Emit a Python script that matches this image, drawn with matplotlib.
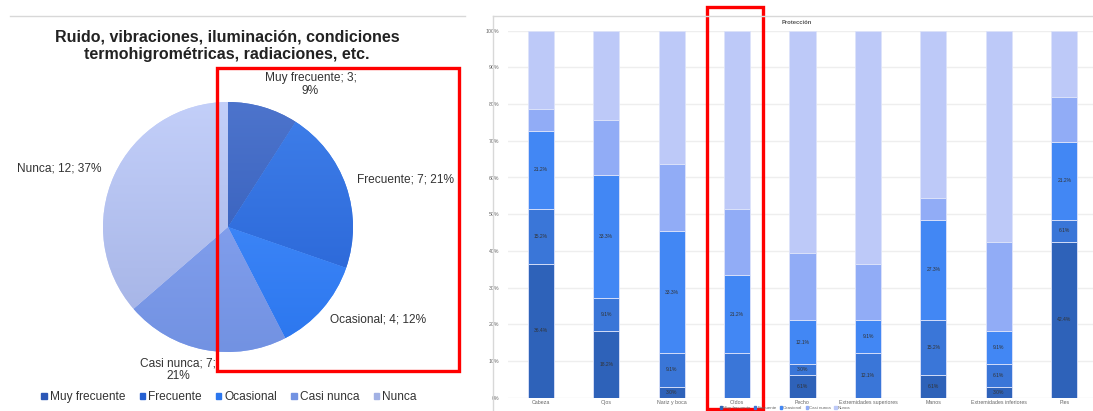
import matplotlib.pyplot as plt
import numpy as np
from matplotlib.patches import Patch, Rectangle
from matplotlib.lines import Line2D
from matplotlib.colors import LinearSegmentedColormap

plt.rcParams['font.family'] = ['Liberation Sans', 'DejaVu Sans']

# ---- datos
niveles = ['Muy frecuente', 'Frecuente', 'Ocasional', 'Casi nunca', 'Nunca']

# tarta: ruido, vibraciones, ...
ruido = [3, 7, 4, 7, 12]

# barras apiladas: proteccion por zona (n = 33)
zonas = ['Cabeza', 'Ojos', 'Nariz y boca', 'Oídos', 'Pecho',
         'Extremidades superiores', 'Manos', 'Extremidades inferiores', 'Pies']
muy_frecuente = [12, 6, 1, 0, 2, 0, 2, 1, 14]
frecuente     = [5, 3, 3, 4, 1, 4, 5, 2, 2]
ocasional     = [7, 11, 11, 7, 4, 3, 9, 3, 7]
casi_nunca    = [2, 5, 6, 6, 6, 5, 2, 8, 4]
nunca         = [7, 8, 12, 16, 20, 21, 15, 19, 6]

W, H = 1093, 411
fig = plt.figure(figsize=(W / 100, H / 100), dpi=100)

def px(x0, y0, w, h):
    # caja en pixeles (origen arriba a la izquierda) -> fraccion de figura
    return [x0 / W, 1 - (y0 + h) / H, w / W, h / H]

def pct_redondeo(vals):
    # porcentajes enteros que suman 100 (resto mayor)
    p = 100 * np.array(vals) / sum(vals)
    e = np.floor(p).astype(int)
    faltan = 100 - e.sum()
    for k in np.argsort(-(p - e))[:faltan]:
        e[k] += 1
    return e

# ---------------- tarta ----------------
cx, cy, r = 228, 227, 125
axp = fig.add_axes(px(cx - r, cy - r, 2 * r, 2 * r))

grad = [('#4d74cc', '#2c57b6'),
        ('#3f7fea', '#2560d2'),
        ('#4b92ff', '#2b76ee'),
        ('#8ea9f6', '#7292e2'),
        ('#c3cff9', '#a2b1e4')]
wedges, _ = axp.pie(ruido, startangle=90, counterclock=False, radius=1,
                    colors=[g[0] for g in grad],
                    wedgeprops=dict(linewidth=0))
g = np.linspace(1, 0, 256).reshape(-1, 1)
for w, (c_top, c_bot) in zip(wedges, grad):
    cm = LinearSegmentedColormap.from_list('w', [c_bot, c_top])
    im = axp.imshow(g, extent=[-1, 1, -1, 1], cmap=cm, origin='upper',
                    aspect='auto', zorder=3)
    im.set_clip_path(w)
axp.set_xlim(-1, 1)
axp.set_ylim(-1, 1)
axp.set_aspect('equal')
axp.axis('off')

textos = ['{}; {};\n{}%', '{}; {}; {}%', '{}; {}; {}%',
          '{}; {};\n{}%', '{}; {}; {}%']
pos = [(0.66, 1.14, 'center'), (1.03, 0.38, 'left'), (0.82, -0.74, 'left'),
       (-0.40, -1.14, 'center'), (-1.01, 0.47, 'right')]
for nom, v, pc, t, (x, y, ha) in zip(niveles, ruido, pct_redondeo(ruido), textos, pos):
    axp.text(x, y, t.format(nom, v, pc), ha=ha, va='center',
             fontsize=8.6, color='#333333', linespacing=1.1, clip_on=False)

fig.text(227 / W, 1 - 46 / H,
         'Ruido, vibraciones, iluminación, condiciones\n'
         'termohigrométricas, radiaciones, etc.',
         ha='center', va='center', fontsize=11.5, fontweight='bold',
         color='#222222', linespacing=1.2)

fig.legend(handles=[Patch(color=g[1]) for g in grad], labels=niveles,
           loc='center', bbox_to_anchor=(229 / W, 1 - 397 / H), ncol=5,
           frameon=False, fontsize=8.6, handlelength=0.45, handleheight=0.45,
           handletextpad=0.25, columnspacing=1.2, labelcolor='#333333')

# marco superior del bloque izquierdo
fig.add_artist(Line2D([10 / W, 465 / W], [1 - 16 / H] * 2, color='#d8d8d8', lw=1))

# ---------------- barras ----------------
series = [muy_frecuente, frecuente, ocasional, casi_nunca, nunca]
colores = ['#2e62b9', '#3a76d8', '#4287f4', '#91acf6', '#bdc9f8']
sin_etiqueta = [(3, 1)]

axb = fig.add_axes(px(508, 30.7, 589, 367))
x = np.arange(len(zonas))
n = np.sum(series, axis=0)
base = np.zeros(len(zonas))
for i, (s, c) in enumerate(zip(series, colores)):
    pct = 100 * np.array(s) / n
    axb.bar(x, pct, bottom=base, width=0.4, color=c,
            edgecolor='#dde3fa', linewidth=0.6, zorder=2)
    if i < 3:
        for j, p in enumerate(pct):
            if p > 0 and (j, i) not in sin_etiqueta:
                axb.text(x[j], base[j] + p / 2, f'{p:.1f}%', ha='center',
                         va='center', fontsize=3.6, color='#333333', zorder=3)
    base += pct

axb.set_xlim(-0.5, 8.5)
axb.set_ylim(0, 100)
axb.set_yticks(np.arange(0, 101, 10))
axb.set_yticklabels([f'{v}%' for v in range(0, 101, 10)])
axb.set_xticks(x)
axb.set_xticklabels(zonas)
axb.tick_params(length=0, labelsize=3.8, colors='#666666', pad=2)
axb.tick_params(axis='y', pad=6)
axb.grid(axis='y', color='#eeeeee', lw=1, zorder=0)
for sp in axb.spines.values():
    sp.set_visible(False)

fig.text(797 / W, 1 - 22 / H, 'Protección', ha='center', va='center',
         fontsize=4.2, color='#555555', fontweight='bold')

fig.legend(handles=[Patch(color=c) for c in colores], labels=niveles,
           loc='center', bbox_to_anchor=(785 / W, 1 - 408 / H), ncol=5,
           frameon=False, fontsize=3.2, handlelength=0.5, handleheight=0.5,
           handletextpad=0.2, columnspacing=0.8, labelcolor='#666666')

# marco del bloque derecho
fig.add_artist(Line2D([493 / W, 1], [1 - 16 / H] * 2, color='#d8d8d8', lw=1))
fig.add_artist(Line2D([493 / W] * 2, [0, 1 - 16 / H], color='#d8d8d8', lw=1))

# recuadros rojos
for (x0, y0, w, h) in [(217, 68, 242, 303), (707, 7, 56, 402)]:
    fig.add_artist(Rectangle((x0 / W, 1 - (y0 + h) / H), w / W, h / H,
                             transform=fig.transFigure, fill=False,
                             edgecolor='#ff0000', lw=2.4))

fig.savefig('out.png', dpi=100)
